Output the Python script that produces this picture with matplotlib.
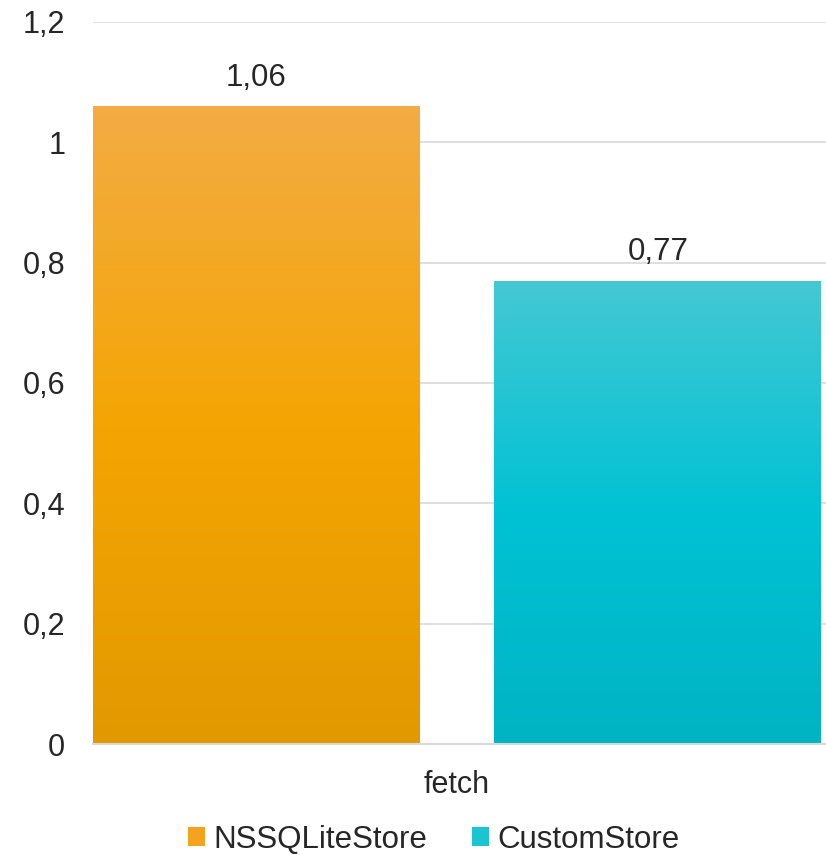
import matplotlib.pyplot as plt
import numpy as np
from matplotlib.colors import LinearSegmentedColormap
from matplotlib.patches import Patch

plt.rcParams['font.family'] = ['Liberation Sans', 'DejaVu Sans']

# data
category = "fetch"
series = ["NSSQLiteStore", "CustomStore"]
values = [1.06, 0.77]
# gradient colours, top -> bottom
gradients = [["#F3AC44", "#F5A503", "#E29900"],
             ["#45C8D3", "#00C2D5", "#00B4C3"]]
legend_colors = ["#F2A41C", "#1CC3D1"]

TEXT = "#262626"
FS = 22

fig = plt.figure(figsize=(8.26, 8.55), dpi=100)
ax = fig.add_axes([0.1126, 0.1298, 0.8874, 0.8445])

width = 0.8144
for i, (v, cols) in enumerate(zip(values, gradients)):
    bar = ax.bar(i, v, width=width, color="none", edgecolor="none", zorder=3)[0]
    cmap = LinearSegmentedColormap.from_list("g%d" % i, cols[::-1])
    grad = np.linspace(0, 1, 256).reshape(-1, 1)
    im = ax.imshow(grad, cmap=cmap, aspect="auto", origin="lower",
                   extent=[i - width / 2, i + width / 2, 0, v], zorder=3)
    im.set_clip_path(bar)
    ax.text(i, v + 0.022, ("%.2f" % v).replace(".", ","), ha="center", va="bottom",
            fontsize=FS + 0.5, color=TEXT, zorder=4)

ax.set_xlim(-0.407, 1.419)
ax.set_ylim(0, 1.2)

yt = np.arange(0, 1.21, 0.2)
ax.set_yticks(yt)
ax.set_yticklabels([("%g" % round(t, 1)).replace(".", ",") for t in yt],
                   fontsize=FS, color=TEXT)
ax.set_xticks([0.5])
ax.set_xticklabels([category], fontsize=FS, color=TEXT)
ax.tick_params(axis="both", length=0)
ax.tick_params(axis="y", pad=20)
ax.tick_params(axis="x", pad=19)

ax.grid(axis="y", color="#D9D9D9", linewidth=1.2, zorder=0)
for s in ["top", "right", "left"]:
    ax.spines[s].set_visible(False)
ax.spines["bottom"].set_color("#D9D9D9")
ax.spines["bottom"].set_linewidth(1.5)
ax.spines["bottom"].set_zorder(5)

handles = [Patch(facecolor=c, edgecolor="none") for c in legend_colors]
fig.legend(handles, series, loc="center", bbox_to_anchor=(0.525, 0.018), ncol=2,
           frameon=False, fontsize=22.5, handlelength=0.55, handleheight=0.55,
           handletextpad=0.25, columnspacing=1.45, labelcolor=TEXT)

fig.savefig("out.png", dpi=100)
